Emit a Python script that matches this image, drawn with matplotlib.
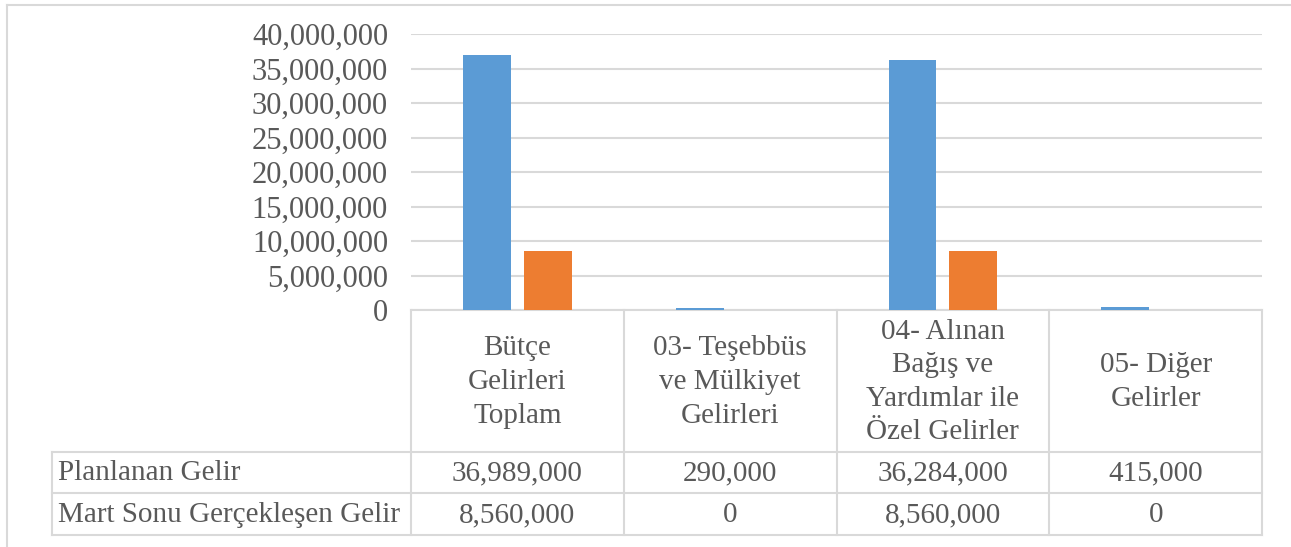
import matplotlib
matplotlib.use("Agg")
import matplotlib.pyplot as plt
from matplotlib.lines import Line2D
from matplotlib.ticker import FuncFormatter

categories = ["Bütçe\nGelirleri\nToplam",
              "03- Teşebbüs\nve Mülkiyet\nGelirleri",
              "04- Alınan\nBağış ve\nYardımlar ile\nÖzel Gelirler",
              "05- Diğer\nGelirler"]
series_names = ["Planlanan Gelir", "Mart Sonu Gerçekleşen Gelir"]
planlanan = [36989000, 290000, 36284000, 415000]
gerceklesen = [8560000, 0, 8560000, 0]
y_ticks = [0, 5000000, 10000000, 15000000, 20000000, 25000000, 30000000, 35000000, 40000000]

plt.rcParams['font.family'] = ['Liberation Serif', 'DejaVu Serif']
TXT = '#595959'
GRID = '#d9d9d9'
colors = ['#5B9BD5', '#ED7D31']

W, H = 1291, 547
fig = plt.figure(figsize=(W / 100, H / 100), dpi=100)
fig.patch.set_facecolor('white')

top_px, bot_px, left_px, right_px = 34, 310, 411, 1262
ax = fig.add_axes([left_px / W, (H - bot_px) / H, (right_px - left_px) / W, (bot_px - top_px) / H])

n = len(categories)
xs = [i + 0.5 for i in range(n)]
bw = 0.225
off = 0.143
ax.bar([x - off for x in xs], planlanan, width=bw, color=colors[0], zorder=3)
ax.bar([x + off for x in xs], gerceklesen, width=bw, color=colors[1], zorder=3)

ax.set_xlim(0, n)
ax.set_ylim(0, 40000000)
ax.set_yticks(y_ticks)
ax.yaxis.set_major_formatter(FuncFormatter(lambda v, p: f"{int(v):,}"))
ax.tick_params(axis='y', length=0, pad=16.5, labelsize=22, labelcolor=TXT)
ax.set_xticks([])
for s in ax.spines.values():
    s.set_visible(False)
ax.grid(axis='y', color=GRID, lw=1.5, zorder=0)

# data table below (pixel y positions converted to axes fraction)
ah = bot_px - top_px
def yf(py):
    return (bot_px - py) / ah

tr = ax.get_xaxis_transform()
row_tops = [310, 452, 493, 535]
lw = 1.5
FS = 21
ax.add_line(Line2D([0, n], [yf(310)] * 2, transform=tr, color=GRID, lw=lw, clip_on=False))
x_left_col = (52 - left_px) / (right_px - left_px) * n
for py in row_tops[1:]:
    ax.add_line(Line2D([x_left_col, n], [yf(py)] * 2, transform=tr, color=GRID, lw=lw, clip_on=False))
for i in range(n + 1):
    ax.add_line(Line2D([i, i], [yf(310), yf(535)], transform=tr, color=GRID, lw=lw, clip_on=False))
ax.add_line(Line2D([x_left_col] * 2, [yf(452), yf(535)], transform=tr, color=GRID, lw=lw, clip_on=False))

for i, c in enumerate(categories):
    ax.text(xs[i], yf(382), c, transform=tr, ha='center', va='center', fontsize=FS,
            color=TXT, linespacing=1.38, clip_on=False)

row_centers = [473, 515]
x_name = (58 - left_px) / (right_px - left_px) * n
for r, (name, vals) in enumerate(zip(series_names, [planlanan, gerceklesen])):
    ax.text(x_name, yf(row_centers[r]), name, transform=tr, ha='left', va='center',
            fontsize=FS, color=TXT, clip_on=False)
    for i, v in enumerate(vals):
        ax.text(xs[i], yf(row_centers[r]), f"{v:,}", transform=tr, ha='center', va='center',
                fontsize=FS, color=TXT, clip_on=False)

# chart border (top and left)
def fx(px):
    return px / W
def fy(py):
    return 1 - py / H
fig.add_artist(Line2D([fx(7), fx(W + 5)], [fy(5), fy(5)], color=GRID, lw=1.5))
fig.add_artist(Line2D([fx(7), fx(7)], [fy(5), fy(H + 5)], color=GRID, lw=1.5))

fig.savefig('out.png', dpi=100, facecolor='white')
